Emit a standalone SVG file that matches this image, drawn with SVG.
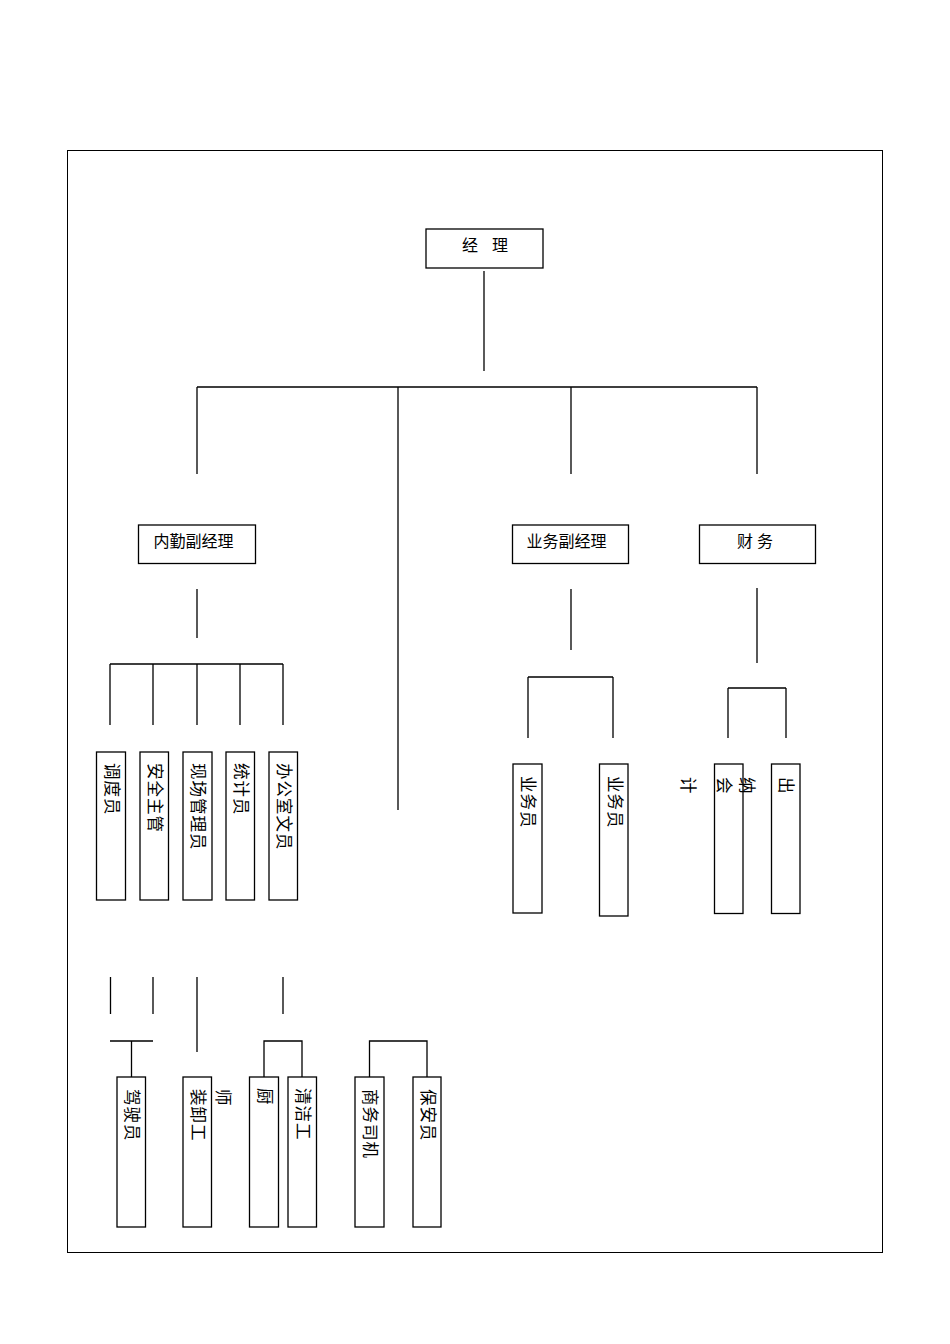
<svg xmlns="http://www.w3.org/2000/svg" width="950" height="1344" viewBox="0 0 950 1344">
<style>
.box{fill:#fff;stroke:#000;stroke-width:1.3}
.ln{fill:none;stroke:#000;stroke-width:1.3}
.t{font-family:"Liberation Serif","Noto Sans CJK SC",serif;font-size:16px;fill:#000}
.v{font-family:"Liberation Serif","Noto Sans CJK SC",serif;font-size:16.5px;letter-spacing:1px;fill:#000;dominant-baseline:central}
</style>
<rect x="0" y="0" width="950" height="1344" fill="#fff"/>
<rect x="67.5" y="150.5" width="815" height="1102" fill="none" stroke="#000" stroke-width="1"/>
<g id="connectors">
<path class="ln" d="M484,271V371"/>
<path class="ln" d="M197,387H757M197,387V474M398,387V810M571,387V474M757,387V474"/>
<path class="ln" d="M197,589V638M110,664H283M110,664V725M153,664V725M197,664V725M240,664V725M283,664V725"/>
<path class="ln" d="M571,589V650M528,677H613M528,677V738M613,677V738"/>
<path class="ln" d="M757,588V663M728,688H786M728,688V738M786,688V738"/>
<path class="ln" d="M110.5,977V1014M153,977V1014M197,977V1052M283,977V1014"/>
<path class="ln" d="M110,1041H153M131.5,1041V1077"/>
<path class="ln" d="M264,1077V1041H302V1077"/>
<path class="ln" d="M369.5,1077V1041H427V1077"/>
</g>
<g id="n-manager"><rect class="box" x="426" y="229" width="117" height="39"/><text class="t" x="470" y="251" text-anchor="middle">经</text><text class="t" x="500" y="251" text-anchor="middle">理</text></g>
<g id="n-neiqin"><rect class="box" x="138.5" y="525" width="117" height="38.5"/><text class="t" x="193.5" y="547" text-anchor="middle">内勤副经理</text></g>
<g id="n-yewu"><rect class="box" x="512.5" y="525" width="116" height="38.5"/><text class="t" x="566.5" y="547" text-anchor="middle">业务副经理</text></g>
<g id="n-caiwu"><rect class="box" x="699.5" y="525" width="116" height="38.5"/><text class="t" x="755" y="547" text-anchor="middle">财 务</text></g>
<g id="n-diaodu"><rect class="box" x="96.5" y="752" width="29" height="148"/><text class="v" transform="translate(111,763) rotate(90)">调度员</text></g>
<g id="n-anquan"><rect class="box" x="140" y="752" width="28.5" height="148"/><text class="v" transform="translate(154,763) rotate(90)">安全主管</text></g>
<g id="n-xianchang"><rect class="box" x="183" y="752" width="29" height="148"/><text class="v" transform="translate(197,763) rotate(90)">现场管理员</text></g>
<g id="n-tongji"><rect class="box" x="226" y="752" width="28.5" height="148"/><text class="v" transform="translate(240,763) rotate(90)">统计员</text></g>
<g id="n-bangong"><rect class="box" x="269" y="752" width="28.5" height="148"/><text class="v" transform="translate(283,763) rotate(90)">办公室文员</text></g>
<g id="n-yewuyuan1"><rect class="box" x="513" y="764" width="29" height="149"/><text class="v" transform="translate(527,776) rotate(90)">业务员</text></g>
<g id="n-yewuyuan2"><rect class="box" x="599.5" y="764" width="28.5" height="152"/><text class="v" transform="translate(614,776) rotate(90)">业务员</text></g>
<g id="n-kuaiji"><rect class="box" x="714.5" y="764" width="28.5" height="149.5"/><text class="v" transform="translate(687,777) rotate(90)">计</text><text class="v" transform="translate(723,777) rotate(90)">会</text></g>
<g id="n-chuna"><rect class="box" x="771.5" y="764" width="28.5" height="149.5"/><text class="v" transform="translate(746,777) rotate(90)">纳</text><text class="v" transform="translate(785,777) rotate(90)">出</text></g>
<g id="n-jiashi"><rect class="box" x="117" y="1077" width="28.5" height="150"/><text class="v" transform="translate(131,1089) rotate(90)">驾驶员</text></g>
<g id="n-zhuangxie"><rect class="box" x="183" y="1077" width="28.5" height="150"/><text class="v" transform="translate(197,1089) rotate(90)">装卸工</text><text class="v" transform="translate(222,1089) rotate(90)">师</text></g>
<g id="n-chu"><rect class="box" x="249.5" y="1077" width="29" height="150"/><text class="v" transform="translate(264,1088) rotate(90)">厨</text></g>
<g id="n-qingjie"><rect class="box" x="288" y="1077" width="28.5" height="150"/><text class="v" transform="translate(302,1088) rotate(90)">清洁工</text></g>
<g id="n-shangwu"><rect class="box" x="355" y="1077" width="29" height="150"/><text class="v" transform="translate(369.5,1089) rotate(90)">商务司机</text></g>
<g id="n-baoan"><rect class="box" x="413" y="1077" width="28" height="150"/><text class="v" transform="translate(427,1089) rotate(90)">保安员</text></g>
</svg>
